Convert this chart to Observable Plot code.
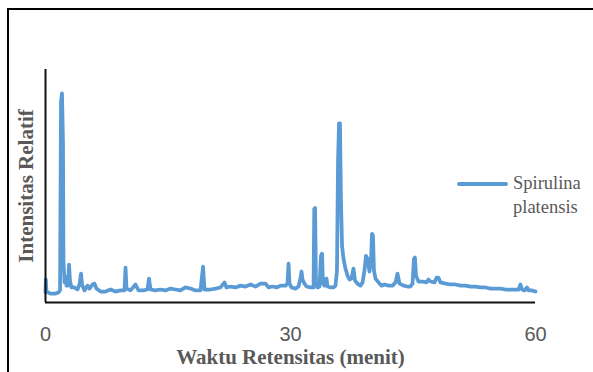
<!DOCTYPE html>
<html>
<head>
<meta charset="utf-8">
<script src="https://cdn.jsdelivr.net/npm/d3@7"></script>
<script src="https://cdn.jsdelivr.net/npm/@observablehq/plot@0.6"></script>
<style>
  html, body { margin: 0; padding: 0; background: #fff; width: 593px; height: 372px; overflow: hidden; }
  #wrap { position: relative; width: 593px; height: 372px; }
  #border { position: absolute; left: 7px; top: 8px; width: 700px; height: 500px; border-left: 2px solid #000; border-top: 2px solid #000; }
  #chart { position: absolute; left: 0; top: 0; }
  #legend { position: absolute; left: 457px; top: 171px; font-family: "Liberation Serif", serif; font-size: 18.5px; color: #595959; line-height: 24px; }
  #legend .sw { position: absolute; left: 0; top: 11px; width: 51px; height: 4px; background: #5B9BD5; border-radius: 2px; }
  #legend .tx { position: absolute; left: 56px; top: 0; white-space: nowrap; }
</style>
</head>
<body>
<div id="wrap">
  <div id="border"></div>
  <div id="chart"></div>
  <div id="legend"><div class="sw"></div><div class="tx">Spirulina<br>platensis</div></div>
</div>
<script>
// Retention time (minutes)
const time = [
  0, 0.04, 0.12, 0.61, 1.22, 1.59, 1.78, 1.90, 2.02, 2.14, 2.20, 2.33, 2.45, 2.57, 2.76, 2.88, 3.00, 3.18, 3.55, 3.92,
  4.16, 4.35, 4.47, 4.78, 5.14, 5.39, 5.76, 6.00, 6.24, 6.73, 7.35, 7.96, 8.57, 9.18, 9.67, 9.80, 9.92, 10.41, 11.02, 11.39,
  12.00, 12.49, 12.67, 12.86, 13.47, 14.08, 14.69, 15.31, 15.92, 16.53, 17.14, 17.76, 18.37, 18.98, 19.29, 19.47, 20.20, 20.82, 21.43, 21.92,
  22.16, 22.65, 23.27, 23.88, 24.49, 25.10, 25.71, 26.33, 26.94, 27.31, 27.80, 28.29, 28.78, 29.39, 29.63, 29.76, 29.88, 30.12, 30.61, 30.98,
  31.22, 31.35, 31.47, 31.71, 31.96, 32.45, 32.82, 32.91, 33.01, 33.12, 33.31, 33.55, 33.73, 33.86, 33.98, 34.16, 34.41, 34.53, 34.90, 35.27,
  35.51, 35.69, 35.82, 35.94, 36.06, 36.18, 36.31, 36.49, 36.73, 36.98, 37.22, 37.47, 37.71, 37.90, 38.20, 38.57, 38.82, 39.06, 39.24, 39.43,
  39.67, 39.86, 39.98, 40.10, 40.22, 40.41, 40.78, 41.14, 41.51, 42.00, 42.49, 42.86, 43.10, 43.35, 43.84, 44.33, 44.69, 44.94, 45.12, 45.24,
  45.37, 45.67, 46.16, 46.65, 46.90, 47.14, 47.63, 47.88, 48.12, 48.37, 48.98, 49.59, 50.20, 50.82, 51.43, 52.04, 52.65, 53.27, 53.88, 54.49,
  55.10, 55.71, 56.33, 56.94, 57.55, 57.92, 58.16, 58.35, 58.65, 58.96, 59.14, 59.51, 60.00
];
// Relative intensity
const intensity = [
  2.2, 7.9, 2.6, 1.7, 1.7, 2.2, 3.1, 86.0, 89.5, 68.6, 16.2, 6.6, 9.2, 5.2, 5.2, 14.4, 7.4, 4.4, 4.4, 3.5,
  5.7, 10.5, 5.7, 3.1, 5.2, 3.9, 5.7, 6.1, 3.9, 2.6, 2.6, 3.5, 2.6, 3.1, 3.1, 13.1, 3.9, 3.1, 5.7, 3.1,
  3.1, 3.5, 8.3, 3.5, 3.1, 3.5, 3.1, 3.9, 3.5, 3.1, 4.4, 3.9, 3.1, 3.1, 13.5, 3.5, 3.5, 3.9, 4.4, 6.6,
  4.4, 4.8, 4.4, 5.2, 4.8, 5.7, 4.8, 6.1, 6.1, 4.4, 4.8, 4.4, 5.2, 5.2, 6.1, 14.8, 6.1, 4.4, 3.9, 4.8,
  8.3, 11.4, 7.9, 6.1, 4.8, 4.4, 4.4, 38.9, 39.3, 6.6, 4.4, 4.8, 18.3, 19.2, 6.1, 5.2, 8.3, 4.8, 4.4, 4.4,
  5.2, 11.8, 59.8, 76.4, 76.4, 42.4, 22.7, 17.0, 12.7, 9.6, 7.9, 8.3, 12.7, 7.4, 6.1, 5.2, 6.6, 11.8, 18.3, 17.0,
  11.4, 16.2, 27.9, 27.1, 11.8, 8.3, 6.6, 5.2, 5.7, 5.2, 5.2, 6.6, 10.5, 6.1, 5.2, 4.8, 4.8, 6.1, 17.0, 17.5,
  9.6, 7.0, 7.0, 6.6, 7.9, 7.0, 6.6, 8.7, 8.7, 6.6, 6.1, 5.7, 5.7, 5.2, 5.2, 4.8, 4.8, 4.4, 4.4, 3.9,
  3.9, 3.9, 3.5, 3.5, 3.5, 3.5, 5.7, 3.5, 3.1, 4.4, 3.1, 3.1, 2.6
];
const xTicks = [0, 30, 60];
const xDomain = [0, 60];
const yDomain = [-2.2, 100];
const xTitle = "Waktu Retensitas (menit)";
const yTitle = "Intensitas Relatif";

const data = time.map((t, i) => ({t, v: intensity[i]}));

const chart = Plot.plot({
  width: 593,
  height: 372,
  marginLeft: 45,
  marginRight: 58,
  marginTop: 69,
  marginBottom: 70,
  x: {domain: xDomain},
  y: {domain: yDomain},
  marks: [
    Plot.axisX({ticks: xTicks, tickSize: 0, tickPadding: 24, label: null,
      fontSize: 20, fontFamily: "Liberation Sans, sans-serif", color: "#595959"}),
    Plot.axisY({ticks: [], label: null}),
    Plot.line(data, {x: "t", y: "v", stroke: "#5B9BD5", strokeWidth: 3.75, strokeLinejoin: "round", strokeLinecap: "round"}),
    Plot.ruleX([xDomain[0]], {stroke: "#111", strokeWidth: 2}),
    Plot.ruleY([yDomain[0]], {stroke: "#111", strokeWidth: 2}),
    Plot.text([xTitle], {frameAnchor: "bottom", dy: 55, lineAnchor: "middle",
      fontFamily: "Liberation Serif, serif", fontWeight: "bold", fontSize: 21, fill: "#595959"}),
    Plot.text([yTitle], {frameAnchor: "left", dx: -19, rotate: -90, lineAnchor: "middle", textAnchor: "middle",
      fontFamily: "Liberation Serif, serif", fontWeight: "bold", fontSize: 21, fill: "#595959"})
  ]
});
document.getElementById("chart").appendChild(chart);
</script>
</body>
</html>
